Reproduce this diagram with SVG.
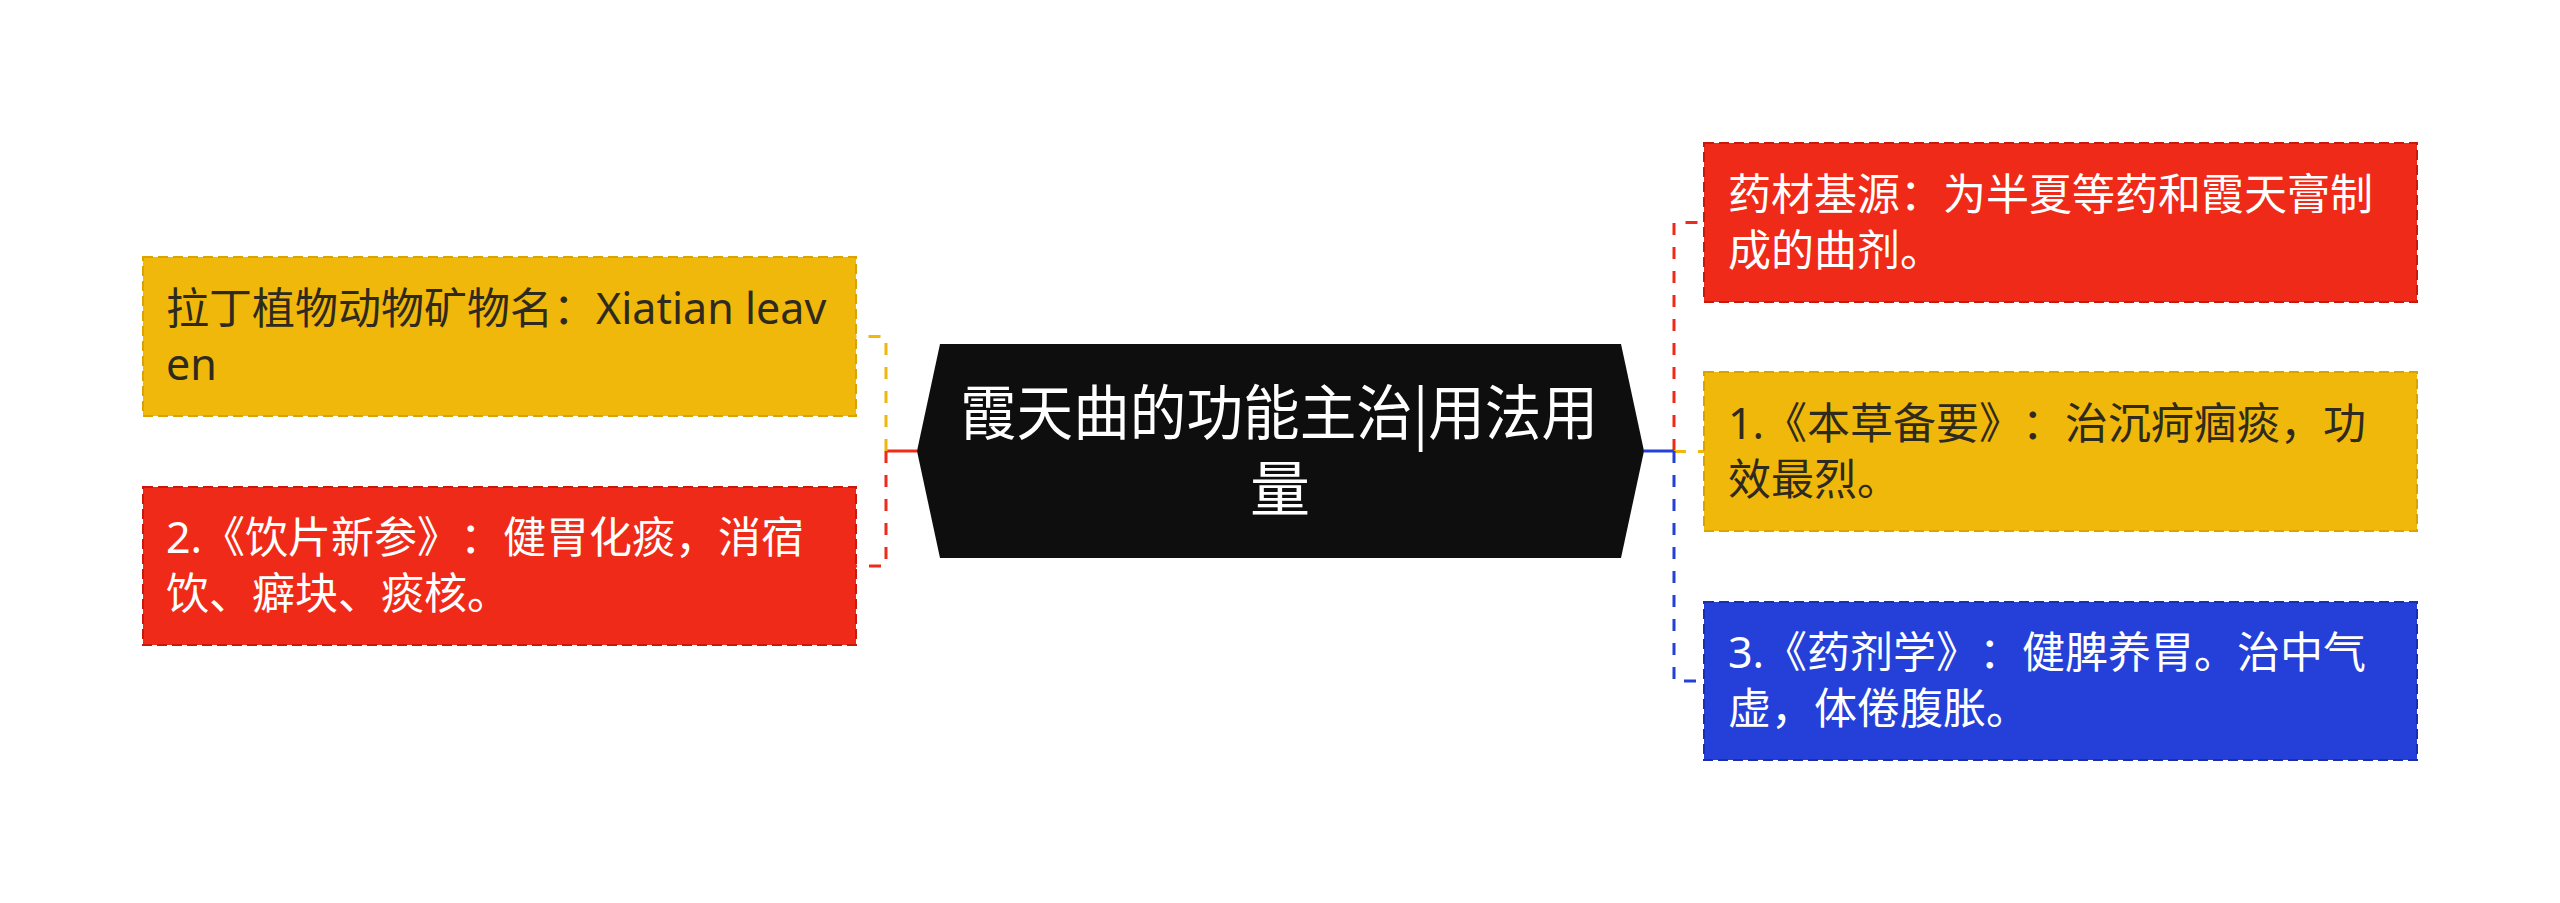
<svg xmlns="http://www.w3.org/2000/svg" width="2560" height="903" viewBox="0 0 2560 903">
<style>
text{text-spacing-trim:space-all}
.t{font-family:"Noto Sans","Noto Sans CJK SC",sans-serif;font-size:43px}
.dk{fill:#2f2a1e}
.wt{fill:#ffffff}
.box{stroke-width:2;stroke-dasharray:10 5}
.yb{fill:#f0b80b;stroke:#d9a400}
.rb{fill:#ef2a18;stroke:#c81a0c}
.bb{fill:#2440d8;stroke:#1a2fb0}
.c{fill:none;stroke-width:3}
.dash{stroke-dasharray:12 12}
.ct{font-family:"Noto Sans CJK SC",sans-serif;font-size:60px;fill:#ffffff}
</style>
<rect width="2560" height="903" fill="#ffffff"/>
<g id="connectors">
<path class="c" stroke="#ef2a18" d="M917,451 H886"/>
<path class="c dash" stroke="#f0b80b" d="M886,451 V336.5 H856"/>
<path class="c dash" stroke="#ef2a18" d="M886,451 V566 H856"/>
<path class="c dash" stroke="#ef2a18" d="M1674,451 V222.5 H1704"/>
<path class="c dash" stroke="#f0b80b" d="M1674,451.5 H1704"/>
<path class="c dash" stroke="#2440d8" d="M1674,451 V681 H1704"/>
<path class="c" stroke="#2440d8" d="M1644,451 H1674"/>
</g>
<g id="center">
<polygon points="940,344 1621,344 1644,451 1621,558 940,558 917,451" fill="#0e0e0e"/>
<text class="ct" x="960" y="435" textLength="638" lengthAdjust="spacingAndGlyphs">霞天曲的功能主治|用法用</text>
<text class="ct" x="1280" y="511" text-anchor="middle">量</text>
</g>
<g id="left1">
<rect class="box yb" x="143" y="257" width="713" height="159"/>
<text class="t dk" x="166" y="324">拉丁植物动物矿物名：Xiatian leav</text>
<text class="t dk" x="166" y="380">en</text>
</g>
<g id="left2">
<rect class="box rb" x="143" y="487" width="713" height="158"/>
<text class="t wt" x="166" y="553">2.《饮片新参》：健胃化痰，消宿</text>
<text class="t wt" x="166" y="609">饮、癖块、痰核。</text>
</g>
<g id="right1">
<rect class="box rb" x="1704" y="143" width="713" height="159"/>
<text class="t wt" x="1728" y="210">药材基源：为半夏等药和霞天膏制</text>
<text class="t wt" x="1728" y="266">成的曲剂。</text>
</g>
<g id="right2">
<rect class="box yb" x="1704" y="372" width="713" height="159"/>
<text class="t dk" x="1728" y="439">1.《本草备要》：治沉疴痼痰，功</text>
<text class="t dk" x="1728" y="495">效最烈。</text>
</g>
<g id="right3">
<rect class="box bb" x="1704" y="602" width="713" height="158"/>
<text class="t wt" x="1728" y="668">3.《药剂学》：健脾养胃。治中气</text>
<text class="t wt" x="1728" y="724">虚，体倦腹胀。</text>
</g>
</svg>
